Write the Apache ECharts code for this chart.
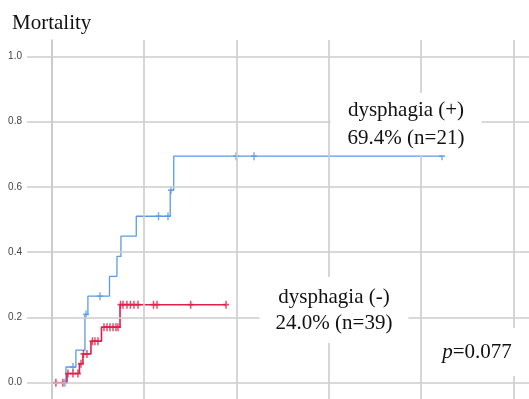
<!DOCTYPE html>
<html>
<head>
<meta charset="utf-8">
<script src="https://cdn.jsdelivr.net/npm/echarts@6/dist/echarts.min.js"></script>
<style>html,body{margin:0;padding:0;background:#fff;}#c{width:529px;height:399px;}</style>
</head>
<body>
<div id="c"></div>
<script>
// ---- data (time in arbitrary units; one grid step = 10) ----
var yTicks = [0, 0.2, 0.4, 0.6, 0.8, 1.0];
var xGridTicks = [0, 10, 20, 30, 40, 50];

var posEventTimes  = [0, 1.52, 2.6, 3.58, 3.9, 6.24, 7.05, 7.48, 9.14, 12.82, 13.2];
var posEventValues = [0, 0.048, 0.100, 0.209, 0.265, 0.326, 0.387, 0.449, 0.510, 0.590, 0.694];
var posEndTime = 42.27;
var posCensorTimes = [1.41, 2.28, 3.69, 5.21, 11.55, 12.58, 12.9, 19.96, 21.9, 42.27];

var negEventTimes  = [0, 1.63, 2.98, 3.36, 4.23, 5.37, 7.38];
var negEventValues = [0, 0.028, 0.058, 0.088, 0.127, 0.170, 0.239];
var negEndTime = 18.87;
var negCensorTimes = [0.43, 1.19, 1.74, 2.28, 2.82, 3.15, 3.42, 3.80, 4.39, 4.66, 4.99,
  5.64, 5.97, 6.29, 6.62, 6.94, 7.16, 7.43, 7.70, 8.13, 8.51, 8.89, 9.33, 11.01, 11.39, 15.04, 18.87];

var titleText = 'Mortality';
var posLabel = ['dysphagia (+)', '69.4% (n=21)'];
var negLabel = ['dysphagia (-)', '24.0% (n=39)'];
var pValue = '0.077';

// ---- helpers ----
function stepLine(times, values, endTime) {
  var d = times.map(function (t, i) { return [t, values[i]]; });
  d.push([endTime, values[values.length - 1]]);
  return d;
}
function censorPoints(times, values, cts) {
  return cts.map(function (c) {
    var v = values[0];
    for (var i = 0; i < times.length; i++) { if (times[i] <= c) v = values[i]; }
    return [c, v];
  });
}

var BLUE = '#5b9be6', RED = '#dc1f4b', GRID = '#cccccc';
var plus = 'path://M-0.25,-1H0.25V-0.22H1V0.22H0.25V1H-0.25V0.22H-1V-0.22H-0.25Z';
var serif = '"Liberation Serif", "Times New Roman", serif';

var chart = echarts.init(document.getElementById('c'), null, {renderer: 'canvas'});
chart.setOption({
  animation: false,
  backgroundColor: '#fff',
  grid: {left: 27, right: 0, top: 40, bottom: 0, containLabel: false},
  xAxis: {
    type: 'value', min: -2.7, max: 51.7,
    axisLine: {show: false}, axisLabel: {show: false},
    axisTick: {show: false, customValues: xGridTicks},
    splitLine: {show: false}
  },
  yAxis: {
    type: 'value', min: -0.05, max: 1.05,
    axisLine: {show: true, lineStyle: {color: '#bdbdbd', width: 1.5}},
    axisTick: {show: false, customValues: yTicks},
    axisLabel: {
      customValues: yTicks, margin: 5, color: '#444',
      fontFamily: '"Liberation Sans", Arial, sans-serif', fontSize: 10,
      formatter: function (v) { return v.toFixed(1); }
    },
    splitLine: {show: false}
  },
  series: [
    {
      type: 'line', data: [], silent: true,
      markLine: {
        silent: true, symbol: 'none', label: {show: false},
        lineStyle: {color: GRID, width: 1.6, type: 'solid'},
        data: xGridTicks.map(function (t) { return {xAxis: t}; })
          .concat(yTicks.map(function (v) { return {yAxis: v}; }))
      },
      z: 1
    },
    {
      name: 'dysphagia (+)', type: 'line', step: 'end', showSymbol: false,
      data: stepLine(posEventTimes, posEventValues, posEndTime),
      lineStyle: {color: BLUE, width: 1.3}, itemStyle: {color: BLUE}, z: 3
    },
    {
      type: 'scatter', symbol: plus, symbolSize: [6, 8],
      data: censorPoints(posEventTimes, posEventValues, posCensorTimes),
      itemStyle: {color: BLUE}, z: 3
    },
    {
      name: 'dysphagia (-)', type: 'line', step: 'end', showSymbol: false,
      data: stepLine(negEventTimes, negEventValues, negEndTime),
      lineStyle: {color: RED, width: 1.6}, itemStyle: {color: RED}, z: 4
    },
    {
      type: 'scatter', symbol: plus, symbolSize: [6, 8],
      data: censorPoints(negEventTimes, negEventValues, negCensorTimes),
      itemStyle: {color: RED}, z: 4
    }
  ],
  graphic: [
    {type: 'text', x: 12, y: 23, z: 50,
     style: {text: titleText, font: '21px ' + serif, fill: '#111', align: 'left', verticalAlign: 'middle'}},
    {type: 'text', x: 406, y: 124, z: 50,
     style: {text: posLabel.join('\n'), font: '21px ' + serif, fill: '#111', align: 'center',
             verticalAlign: 'middle', lineHeight: 28, backgroundColor: '#fff', padding: [3, 17]}},
    {type: 'text', x: 334, y: 310, z: 50,
     style: {text: negLabel.join('\n'), font: '21px ' + serif, fill: '#111', align: 'center',
             verticalAlign: 'middle', lineHeight: 26, backgroundColor: '#fff', padding: [7, 16]}},
    {type: 'text', x: 477, y: 352, z: 50,
     style: {text: '{i|p}=' + pValue, font: '21px ' + serif, fill: '#111', align: 'center',
             verticalAlign: 'middle', lineHeight: 24, backgroundColor: '#fff', padding: [12, 14],
             rich: {i: {font: 'italic 21px ' + serif, fill: '#111'}}}}
  ]
});
</script>
</body>
</html>
